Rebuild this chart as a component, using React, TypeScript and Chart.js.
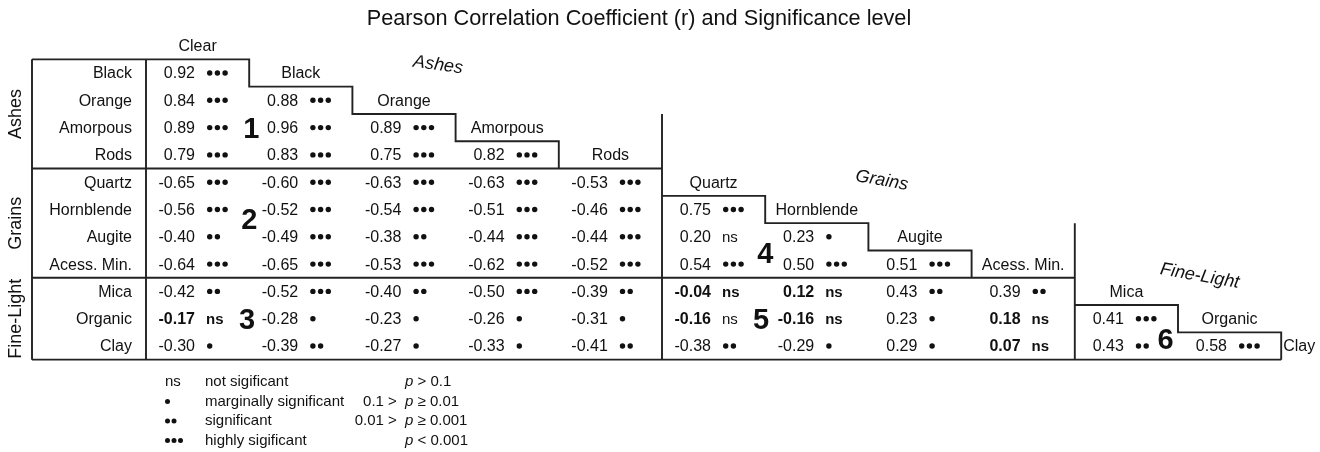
import React, { useEffect, useRef } from "react";
import { Chart, registerables } from "chart.js";

Chart.register(...registerables);

// ---------------- data ----------------
const chartTitle = "Pearson Correlation Coefficient (r) and Significance level";

const rowLabels = [
  "Black", "Orange", "Amorpous", "Rods",
  "Quartz", "Hornblende", "Augite", "Acess. Min.",
  "Mica", "Organic", "Clay",
];

const colLabels = [
  "Clear", "Black", "Orange", "Amorpous", "Rods",
  "Quartz", "Hornblende", "Augite", "Acess. Min.",
  "Mica", "Organic", "Clay",
];

const groupNames = ["Ashes", "Grains", "Fine-Light"];
const groupFirstRow = [0, 4, 8];
const groupLastRow = [3, 7, 10];

const rValues: number[][] = [
  [0.92],
  [0.84, 0.88],
  [0.89, 0.96, 0.89],
  [0.79, 0.83, 0.75, 0.82],
  [-0.65, -0.60, -0.63, -0.63, -0.53],
  [-0.56, -0.52, -0.54, -0.51, -0.46, 0.75],
  [-0.40, -0.49, -0.38, -0.44, -0.44, 0.20, 0.23],
  [-0.64, -0.65, -0.53, -0.62, -0.52, 0.54, 0.50, 0.51],
  [-0.42, -0.52, -0.40, -0.50, -0.39, -0.04, 0.12, 0.43, 0.39],
  [-0.17, -0.28, -0.23, -0.26, -0.31, -0.16, -0.16, 0.23, 0.18, 0.41],
  [-0.30, -0.39, -0.27, -0.33, -0.41, -0.38, -0.29, 0.29, 0.07, 0.43, 0.58],
];

// 0 = ns, 1 = marginal, 2 = significant, 3 = highly significant
const sigLevels: number[][] = [
  [3],
  [3, 3],
  [3, 3, 3],
  [3, 3, 3, 3],
  [3, 3, 3, 3, 3],
  [3, 3, 3, 3, 3, 3],
  [2, 3, 2, 3, 3, 0, 1],
  [3, 3, 3, 3, 3, 3, 3, 3],
  [2, 3, 2, 3, 2, 0, 0, 2, 2],
  [0, 1, 1, 1, 1, 0, 0, 1, 0, 3],
  [1, 2, 1, 1, 2, 2, 1, 1, 0, 2, 3],
];

const boldValueCells = [[9, 0], [8, 5], [8, 6], [9, 5], [9, 6], [9, 8], [10, 8]];
const boldNsCells = [[9, 0], [8, 5], [8, 6], [9, 6], [9, 8], [10, 8]];

const blockLabels = ["1", "2", "3", "4", "5", "6"];

const legendLevels = [0, 1, 2, 3];
const legendNames = ["not sigificant", "marginally significant", "significant", "highly sigificant"];
const legendPrefix = ["", "0.1 > ", "0.01 > ", ""];
const legendSuffix = [" > 0.1", " \u2265 0.01", " \u2265 0.001", " < 0.001"];

// ---------------- layout (positions / styles only) ----------------
const W = 1320;
const H = 452;
const COL0_PX = 146;
const COL_W = 103.2;
const ROW0_PX = 73;
const ROW_H = 27.3;
const LABEL_LEFT = -(COL0_PX - 32) / COL_W;
const blockLabelPos = [[1.02, 2.0], [1.0, 5.35], [0.98, 9.0], [6.0, 6.6], [5.96, 9.0], [9.88, 9.75]];
const groupTitlePos = [[2.83, -0.29, 8], [7.13, 3.94, 10], [10.21, 7.44, 10]];
const FF = "'Liberation Sans', Arial, Helvetica, sans-serif";
const LINE_COLOR = "#222";
const TEXT_COLOR = "#111";

type Pt = { x: number; y: number };

function buildLines(): Pt[][] {
  const lines: Pt[][] = [];
  const lastRow = rowLabels.length - 1;
  const nCellCols = colLabels.length - 1;
  // left label box
  lines.push([{ x: LABEL_LEFT, y: -0.5 }, { x: LABEL_LEFT, y: lastRow + 0.5 }]);
  lines.push([{ x: 0, y: -0.5 }, { x: 0, y: lastRow + 0.5 }]);
  groupFirstRow.forEach((first, gi) => {
    const last = groupLastRow[gi];
    const cStart = gi === 0 ? 0 : first + 1;
    const stair: Pt[] = [];
    if (gi === 0) stair.push({ x: LABEL_LEFT, y: -0.5 });
    stair.push({ x: cStart, y: cStart - 0.5 });
    for (let c = cStart; c <= last; c++) {
      stair.push({ x: c + 1, y: c - 0.5 });
      stair.push({ x: c + 1, y: c + 0.5 });
    }
    lines.push(stair);
    // horizontal separator / bottom line
    lines.push([
      { x: LABEL_LEFT, y: last + 0.5 },
      { x: Math.min(last + 2, nCellCols), y: last + 0.5 },
    ]);
    // vertical group border
    if (gi < groupFirstRow.length - 1) {
      lines.push([
        { x: last + 2, y: last - 1.5 },
        { x: last + 2, y: lastRow + 0.5 },
      ]);
    }
  });
  return lines;
}

function inList(list: number[][], r: number, c: number) {
  return list.some((p) => p[0] === r && p[1] === c);
}

function drawDots(ctx: CanvasRenderingContext2D, n: number, x0: number, y: number, rad: number, gap: number) {
  for (let k = 0; k < n; k++) {
    ctx.beginPath();
    ctx.arc(x0 + rad + k * gap, y, rad, 0, Math.PI * 2);
    ctx.fill();
  }
}

const tablePlugin = {
  id: "corrTable",
  afterDatasetsDraw(chart: any) {
    const ctx: CanvasRenderingContext2D = chart.ctx;
    const xs = chart.scales.x;
    const ys = chart.scales.y;
    const X = (v: number) => xs.getPixelForValue(v);
    const Y = (v: number) => ys.getPixelForValue(v);
    ctx.save();
    ctx.fillStyle = TEXT_COLOR;
    ctx.textBaseline = "middle";

    // title
    ctx.font = `21.7px ${FF}`;
    ctx.textAlign = "center";
    ctx.fillText(chartTitle, 639, 19);

    // row labels
    ctx.font = `16px ${FF}`;
    ctx.textAlign = "right";
    rowLabels.forEach((lab, r) => ctx.fillText(lab, X(0) - 14, Y(r) + 1));

    // column headers
    colLabels.forEach((lab, c) => {
      const row = c - 1;
      if (c < colLabels.length - 1) {
        ctx.textAlign = "center";
        ctx.fillText(lab, X(c + 0.5), Y(row) + 1);
      } else {
        ctx.textAlign = "left";
        ctx.fillText(lab, X(c) + 2, Y(row) + 1);
      }
    });

    // cells
    rValues.forEach((row, r) => {
      row.forEach((v, c) => {
        const x0 = X(c);
        const y = Y(r) + 1;
        const boldV = inList(boldValueCells, r, c);
        ctx.font = `${boldV ? "bold " : ""}16px ${FF}`;
        ctx.textAlign = "right";
        ctx.fillText(v.toFixed(2), x0 + 49, y);
        const lvl = sigLevels[r][c];
        if (lvl === 0) {
          const boldN = inList(boldNsCells, r, c);
          ctx.font = `${boldN ? "bold " : ""}15px ${FF}`;
          ctx.textAlign = "left";
          ctx.fillText("ns", x0 + 60, y);
        } else {
          drawDots(ctx, lvl, x0 + 61, y - 1, 2.7, 7.7);
        }
      });
    });

    // big block numbers
    ctx.font = `bold 29px ${FF}`;
    ctx.textAlign = "center";
    blockLabels.forEach((lab, i) => {
      ctx.fillText(lab, X(blockLabelPos[i][0]), Y(blockLabelPos[i][1]) + 2);
    });

    // italic group titles
    ctx.font = `italic 18px ${FF}`;
    groupNames.forEach((g, i) => {
      const [gx, gy, ang] = groupTitlePos[i];
      ctx.save();
      ctx.translate(X(gx), Y(gy));
      ctx.rotate((ang * Math.PI) / 180);
      ctx.textAlign = "center";
      ctx.fillText(g, 0, 0);
      ctx.restore();
    });

    // left vertical group names
    ctx.font = `18px ${FF}`;
    groupNames.forEach((g, i) => {
      const cy = Y((groupFirstRow[i] + groupLastRow[i]) / 2);
      ctx.save();
      ctx.translate(16, cy);
      ctx.rotate(-Math.PI / 2);
      ctx.textAlign = "center";
      ctx.fillText(g, 0, 0);
      ctx.restore();
    });

    // significance legend
    legendLevels.forEach((lvl, i) => {
      const y = 382 + 19.5 * i;
      if (lvl === 0) {
        ctx.font = `15px ${FF}`;
        ctx.textAlign = "left";
        ctx.fillText("ns", 165, y);
      } else {
        drawDots(ctx, lvl, 165, y, 2.5, 6.5);
      }
      ctx.font = `15px ${FF}`;
      ctx.textAlign = "left";
      ctx.fillText(legendNames[i], 205, y);
      if (legendPrefix[i]) {
        ctx.textAlign = "right";
        ctx.fillText(legendPrefix[i], 401, y);
      }
      ctx.textAlign = "left";
      ctx.font = `italic 15px ${FF}`;
      ctx.fillText("p", 405, y);
      const pw = ctx.measureText("p").width;
      ctx.font = `15px ${FF}`;
      ctx.fillText(legendSuffix[i], 405 + pw, y);
    });

    ctx.restore();
  },
};

export default function App() {
  const canvasRef = useRef<HTMLCanvasElement | null>(null);

  useEffect(() => {
    const canvas = canvasRef.current;
    if (!canvas) return;
    const lines = buildLines();
    const chart = new Chart(canvas, {
      type: "scatter",
      data: {
        datasets: lines.map((pts, i) => ({
          label: `line${i}`,
          data: pts,
          showLine: true,
          borderColor: LINE_COLOR,
          backgroundColor: LINE_COLOR,
          borderWidth: 1.9,
          pointRadius: 0,
          pointHoverRadius: 0,
          fill: false,
          tension: 0,
        })),
      },
      options: {
        animation: false,
        responsive: false,
        devicePixelRatio: 1,
        events: [],
        layout: { padding: 0 },
        plugins: {
          legend: { display: false },
          tooltip: { enabled: false },
          title: { display: false },
        },
        scales: {
          x: {
            type: "linear",
            display: false,
            min: -COL0_PX / COL_W,
            max: (W - COL0_PX) / COL_W,
          },
          y: {
            type: "linear",
            display: false,
            reverse: true,
            min: -ROW0_PX / ROW_H,
            max: (H - ROW0_PX) / ROW_H,
          },
        },
      },
      plugins: [tablePlugin],
    });
    return () => chart.destroy();
  }, []);

  return (
    <div style={{ position: "absolute", left: 0, top: 0, width: W, height: H, background: "#fff" }}>
      <canvas ref={canvasRef} width={W} height={H} style={{ display: "block" }} />
    </div>
  );
}
